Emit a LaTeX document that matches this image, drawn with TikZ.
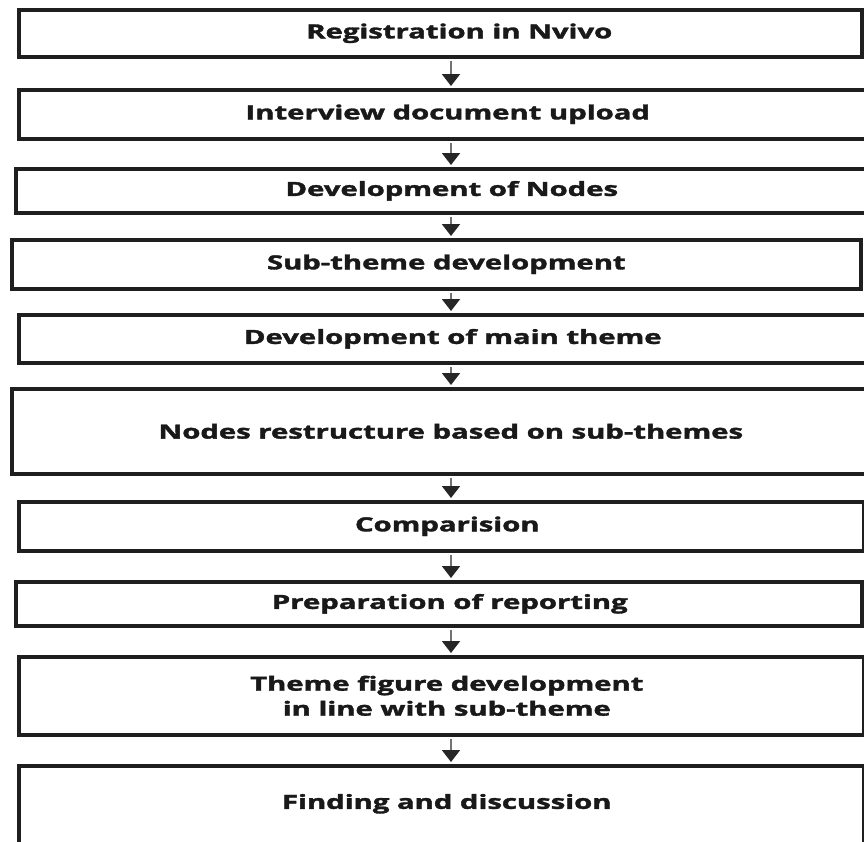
\documentclass[tikz,border=0pt]{standalone}
\usepackage{fontspec}
\setmainfont{Open Sans}[BoldFeatures={FakeBold=1.6}]
\usetikzlibrary{arrows.meta,calc}

% wide bold lettering used inside the step frames
\newcommand{\widetext}[1]{\scalebox{1.5}[1]{#1}}

\tikzset{
  stepframe/.style={draw=black!88, line width=3.6pt, fill=white, rectangle,
    inner sep=0pt, anchor=north west},
  steptext/.style={font=\bfseries\fontsize{19.5}{25}\selectfont, align=center,
    text=black!90, inner sep=0pt},
  flowarrow/.style={draw=black!55, line width=2pt,
    -{Triangle[length=12pt,width=18pt,color=black!85]}, shorten >=1pt},
}

\begin{document}
\begin{tikzpicture}[x=1pt,y=-1pt]
  \useasboundingbox (0,0) rectangle (864,841);
  \fill[white] (0,0) rectangle (864,841);

  % frames: left, top, width, height
  \node[stepframe, minimum width=843pt, minimum height=47pt] (b1) at (17,8) {};
  \node[stepframe, minimum width=860pt, minimum height=49pt] (b2) at (17,88) {};
  \node[stepframe, minimum width=860pt, minimum height=44pt] (b3) at (14,167) {};
  \node[stepframe, minimum width=849pt, minimum height=49pt] (b4) at (10,238) {};
  \node[stepframe, minimum width=860pt, minimum height=48pt] (b5) at (17,313) {};
  \node[stepframe, minimum width=866pt, minimum height=85pt] (b6) at (10,387) {};
  \node[stepframe, minimum width=845pt, minimum height=49pt] (b7) at (17,500) {};
  \node[stepframe, minimum width=846pt, minimum height=44pt] (b8) at (14,580) {};
  \node[stepframe, minimum width=845pt, minimum height=78pt] (b9) at (17,655) {};
  \node[stepframe, minimum width=845pt, minimum height=90pt] (b10) at (17,764) {};

  % labels
  \node[steptext] (t1) at ($(b1.center)+(19,0)$) {\widetext{Registration in Nvivo}};
  \node[steptext] (t2) at ($(b2.center)+(-1,0)$) {\widetext{Interview document upload}};
  \node[steptext] (t3) at ($(b3.center)+(6,0)$) {\widetext{Development of Nodes}};
  \node[steptext] (t4) at ($(b4.center)+(10,0)$) {\widetext{Sub-theme development}};
  \node[steptext] (t5) at ($(b5.center)+(4,0)$) {\widetext{Development of main theme}};
  \node[steptext] (t6) at ($(b6.center)+(6,0)$) {\widetext{Nodes restructure based on sub-themes}};
  \node[steptext] (t7) at ($(b7.center)+(6,0)$) {\widetext{Comparision}};
  \node[steptext] (t8) at ($(b8.center)+(11,0)$) {\widetext{Preparation of reporting}};
  \node[steptext] (t9) at ($(b9.center)+(5.5,0)$) {\widetext{Theme figure development}\\\widetext{in line with sub-theme}};
  \node[steptext] (t10) at ($(b10.center)+(5.5,-7)$) {\widetext{Finding and discussion}};

  % arrow axis
  \coordinate (ax) at (451,0);
  \foreach \a/\b in {b1/b2,b2/b3,b3/b4,b4/b5,b5/b6,b6/b7,b7/b8,b8/b9,b9/b10}
    \draw[flowarrow] ($(\a.south -| ax)+(0,2)$) -- ($(\b.north -| ax)+(0,-1)$);
\end{tikzpicture}
\end{document}
